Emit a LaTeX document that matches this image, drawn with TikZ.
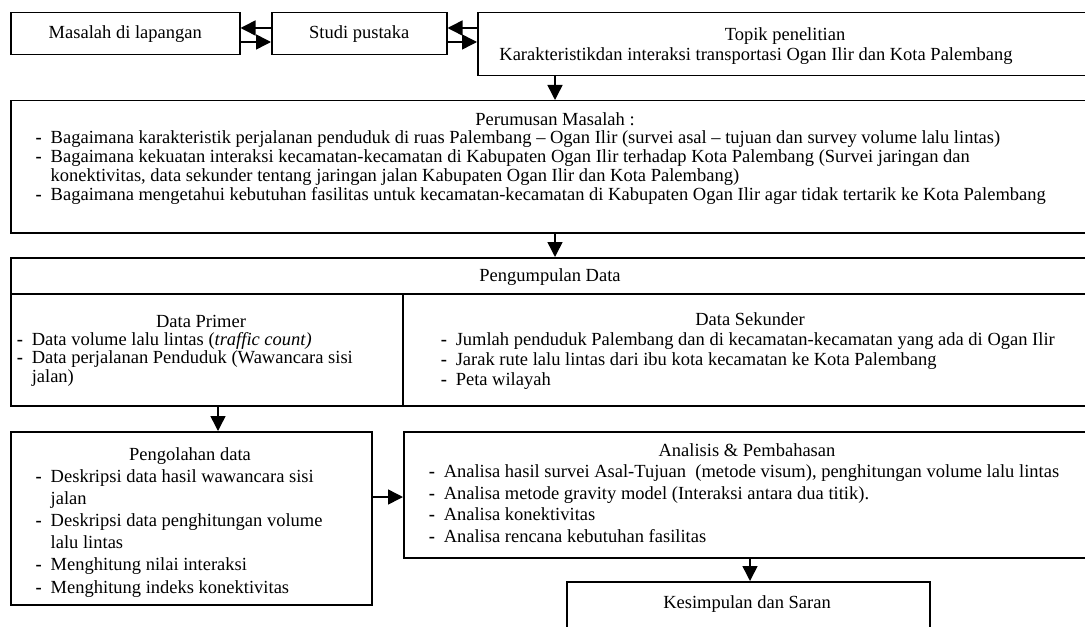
\documentclass[tikz,border=0pt]{standalone}
\usepackage{fontspec}
\setmainfont{Liberation Serif}
\usetikzlibrary{arrows.meta}
\newcommand{\bul}{\makebox[7.5pt][l]{\textbf{-}}}
\newcommand{\cont}{\hspace*{7.5pt}}

\begin{document}
\begin{tikzpicture}[x=.5pt, y=-.5pt, >={Triangle[length=7.5pt,width=7.5pt]}, line width=.75pt,
  box/.style={draw, inner sep=0pt, anchor=north west, font=\fontsize{9.25}{11}\selectfont},
  head/.style={anchor=base, inner sep=0pt, font=\fontsize{9.25}{11}\selectfont},
  list/.style={anchor=base west, align=left, inner sep=0pt, font=\fontsize{9.25}{#1}\selectfont},
  list/.default=9.5pt]
\useasboundingbox (0,0) rectangle (1085,626);

\node[box, minimum width=114.5pt, minimum height=21pt] (masalah) at (10,12) {Masalah di lapangan};
\node[box, minimum width=87.5pt, minimum height=21pt] (studi) at (271,12) {Studi pustaka};
\node[box, minimum width=320pt, minimum height=31.5pt] (topik) at (477,12) {};
\node[box, minimum width=550pt, minimum height=66pt] (perumusan) at (10,100) {};
\node[box, minimum width=550pt, minimum height=74pt] (pengumpulan) at (10,257) {};
\node[box, minimum width=180.5pt, minimum height=86.5pt] (pengolahan) at (10,431) {};
\node[box, minimum width=360pt, minimum height=63pt] (analisis) at (403,431) {};
\node[box, minimum width=181.5pt, minimum height=35pt] (kesimpulan) at (566,581) {};

% garis pembagi pengumpulan data
\coordinate (hdiv) at (0,294);
\coordinate (vdiv) at (403,0);
\draw (pengumpulan.west |- hdiv) -- (pengumpulan.east |- hdiv);
\draw (vdiv |- hdiv) -- (vdiv |- pengumpulan.south);

\coordinate (up) at (0,28);
\coordinate (lo) at (0,42);
\draw[->] (studi.west |- up) -- (masalah.east |- up);
\draw[->] (masalah.east |- lo) -- (studi.west |- lo);
\draw[->] (topik.west |- up) -- (studi.east |- up);
\draw[->] (studi.east |- lo) -- (topik.west |- lo);

\coordinate (a1) at (555,0);
\draw[->] (topik.south -| a1) -- (perumusan.north -| a1);
\draw[->] (perumusan.south -| a1) -- (pengumpulan.north -| a1);
\coordinate (a2) at (218,0);
\draw[->] (pengumpulan.south -| a2) -- (pengolahan.north -| a2);
\coordinate (a3) at (0,497);
\draw[->] (pengolahan.east |- a3) -- (analisis.west |- a3);
\coordinate (a4) at (750,0);
\draw[->] (analisis.south -| a4) -- (kesimpulan.north -| a4);

% teks, list ditempatkan pada baseline baris terakhir
\node[head] (topiktitle) at (785,41) {Topik penelitian};
\node[head] (topikline) at (756,61) {Karakteristikdan interaksi transportasi Ogan Ilir dan Kota Palembang};

\node[head] (perumusanhead) at (555,126) {Perumusan Masalah :};
\node[list=9.5pt] (perumusanlist) at (35,200) {\bul Bagaimana karakteristik perjalanan penduduk di ruas Palembang – Ogan Ilir (survei asal – tujuan dan survey volume lalu lintas)\\
\bul Bagaimana kekuatan interaksi kecamatan-kecamatan di Kabupaten Ogan Ilir terhadap Kota Palembang (Survei jaringan dan\\
\cont konektivitas, data sekunder tentang jaringan jalan Kabupaten Ogan Ilir dan Kota Palembang)\\
\bul Bagaimana mengetahui kebutuhan fasilitas untuk kecamatan-kecamatan di Kabupaten Ogan Ilir agar tidak tertarik ke Kota Palembang};

\node[head] (pengumpulanhead) at (550,281) {Pengumpulan Data};
\node[head] (primerhead) at (201,327) {Data Primer};
\node[list=9.25pt] (primerlist) at (16,382) {\bul Data volume lalu lintas (\textit{traffic count)}\\
\bul Data perjalanan Penduduk (Wawancara sisi\\
\cont jalan)};
\node[head] (sekunderhead) at (750,325) {Data Sekunder};
\node[list=10pt] (sekunderlist) at (440,385) {\bul Jumlah penduduk Palembang dan di kecamatan-kecamatan yang ada di Ogan Ilir\\
\bul Jarak rute lalu lintas dari ibu kota kecamatan ke Kota Palembang\\
\bul Peta wilayah};

\node[head] (pengolahanhead) at (190,460) {Pengolahan data};
\node[list=11.1pt] (pengolahanlist) at (35,593) {\bul Deskripsi data hasil wawancara sisi\\
\cont jalan\\
\bul Deskripsi data penghitungan volume\\
\cont lalu lintas\\
\bul Menghitung nilai interaksi\\
\bul Menghitung indeks konektivitas};

\node[head] (analisishead) at (747,456) {Analisis \& Pembahasan};
\node[list=10.7pt] (analisislist) at (428,542) {\bul Analisa hasil survei Asal-Tujuan \ (metode visum), penghitungan volume lalu lintas\\
\bul Analisa metode gravity model (Interaksi antara dua titik).\\
\bul Analisa konektivitas\\
\bul Analisa rencana kebutuhan fasilitas};

\node[head] (kesimpulanhead) at (747,608) {Kesimpulan dan Saran};

\end{tikzpicture}
\end{document}
